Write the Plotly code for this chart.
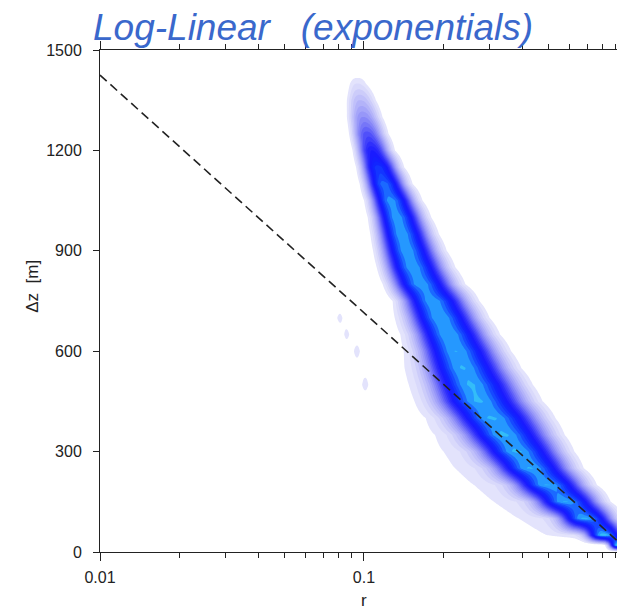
import numpy as np
import plotly.graph_objects as go

# ---------------- data ----------------
title_text = "Log-Linear\u00a0\u00a0\u00a0(exponentials)"

# density band, one row per Δz level (m)
row_dz   = [0, 20, 50, 100, 150, 200, 250, 300, 350, 400, 450, 500, 550, 600, 650, 700,
            750, 800, 850, 900, 950, 1000, 1050, 1100, 1150, 1200, 1250, 1300, 1350, 1400, 1450]
ridge_r  = [0.97, 0.93, 0.818, 0.693, 0.587, 0.502, 0.433, 0.386, 0.345, 0.311, 0.277, 0.259,
            0.241, 0.227, 0.212, 0.197, 0.184, 0.166, 0.155, 0.147, 0.1405, 0.1345, 0.1276,
            0.120, 0.114, 0.108, 0.1035, 0.100, 0.0974, 0.0949, 0.093]
core_w   = [0.02, 0.03, 0.05, 0.07, 0.082, 0.09, 0.097, 0.104, 0.11, 0.115, 0.116, 0.112,
            0.106, 0.1, 0.094, 0.09, 0.086, 0.082, 0.078, 0.073, 0.068, 0.063, 0.058,
            0.053, 0.049, 0.045, 0.044, 0.043, 0.04, 0.033, 0.02]
peak     = [0.0, 1.0, 0.95, 0.92, 0.91, 0.91, 0.91, 0.915, 0.915, 0.915, 0.915, 0.915, 0.915,
            0.915, 0.915, 0.915, 0.91, 0.91, 0.91, 0.91, 0.91, 0.905, 0.9, 0.86, 0.78, 0.64,
            0.5, 0.36, 0.24, 0.12, 0.0]
skirt_reach = [0.0, 0.0, 0.37, 0.39, 0.41, 0.42, 0.43, 0.43, 0.40, 0.36, 0.33, 0.34, 0.36,
               0.28, 0.22, 0.18, 0, 0, 0, 0, 0, 0, 0, 0, 0, 0, 0, 0, 0, 0, 0]
skirt_amp   = [0.0, 0.0, 0.12, 0.14, 0.15, 0.15, 0.15, 0.14, 0.13, 0.12, 0.11, 0.10, 0.08,
               0.065, 0.055, 0.045, 0, 0, 0, 0, 0, 0, 0, 0, 0, 0, 0, 0, 0, 0, 0]

# isolated faint patches left of the band
islands_r  = [0.081, 0.086, 0.094, 0.101]
islands_dz = [700, 650, 600, 500]
islands_amp = [0.09, 0.09, 0.09, 0.09]

# dashed log-linear fit
fit_r  = [0.01, 1.0]
fit_dz = [1425, 5]

x_tickvals = [0.01, 0.1, 1]
x_ticktext = ["0.01", "0.1", "1"]
x_minor = [0.02, 0.03, 0.04, 0.05, 0.06, 0.07, 0.08, 0.09,
           0.2, 0.3, 0.4, 0.5, 0.6, 0.7, 0.8, 0.9]
y_tickvals = [0, 300, 600, 900, 1200, 1500]

# ---------------- density grid ----------------
grid_r = np.logspace(-1.2, 0.0, 400)
L = np.log10(grid_r)
dens = np.zeros((len(row_dz), len(grid_r)))
for i in range(len(row_dz)):
    w = core_w[i]
    c = np.log10(ridge_r[i]) - 0.08 * w
    d = L - c
    wl, wr = 0.9 * w, 1.08 * w
    core = peak[i] * np.where(d < 0, np.exp(-0.5 * np.abs(d / wl) ** 2.4),
                              np.exp(-0.5 * np.abs(d / wr) ** 2.4))
    sk = np.zeros_like(d)
    if skirt_amp[i] > 0.04:
        tau = skirt_reach[i] / np.sqrt(2 * np.log(skirt_amp[i] / 0.035))
        sk = np.where(d < 0, skirt_amp[i] * np.exp(-0.5 * (d / tau) ** 2),
                      skirt_amp[i] * np.exp(-0.5 * (d / (0.8 * w)) ** 2))
    dens[i] = core + sk * (1 - core)
for rr, zz, aa in zip(islands_r, islands_dz, islands_amp):
    i = row_dz.index(zz)
    dens[i] += aa * np.exp(-0.5 * ((L - np.log10(rr)) / 0.012) ** 2)
dens = np.clip(dens, 0, 1)

cscale = [[0.0, '#ffffff'], [0.035, '#ffffff'], [0.04, '#e8e8fd'], [0.1, '#dadafb'],
          [0.16, '#c8c8fa'], [0.24, '#b0b0f9'], [0.32, '#9494f8'], [0.40, '#7474f8'],
          [0.48, '#5050fa'], [0.56, '#3030fc'], [0.64, '#1a1aff'], [0.72, '#1222ff'],
          [0.8, '#1440ff'], [0.85, '#1a64ff'], [0.88, '#2088ff'], [0.92, '#2cb0ff'],
          [0.96, '#3ccef0'], [1.0, '#50e070']]

fig = go.Figure()
fig.add_trace(go.Contour(
    x=grid_r, y=row_dz, z=dens,
    colorscale=cscale, zmin=0, zmax=1, zauto=False, showscale=False,
    contours=dict(start=0.04, end=1.0, size=0.04, coloring='fill', showlines=False),
    line=dict(width=0, color='rgba(0,0,0,0)', smoothing=1.0),
    hoverinfo='skip'))
fig.add_trace(go.Scatter(
    x=fit_r, y=fit_dz, mode='lines',
    line=dict(color='#222222', width=1.6, dash='9px,5px'),
    hoverinfo='skip', showlegend=False))

axis_font = dict(family="Liberation Sans, Arial, sans-serif", size=16, color='#222222')
fig.update_layout(
    width=625, height=613,
    margin=dict(l=92, r=8, t=42, b=69),
    paper_bgcolor='white', plot_bgcolor='white',
    showlegend=False,
    font=axis_font,
    xaxis=dict(type='log', range=[-2, -0.011], tickvals=x_tickvals, ticktext=x_ticktext,
               ticks='outside', ticklen=8, tickwidth=1, tickcolor='#222',
               showline=True, linecolor='#222', linewidth=1, mirror='allticks',
               showgrid=False, zeroline=False, ticklabelstandoff=3,
               minor=dict(tickvals=x_minor, ticks='outside', ticklen=5,
                          tickcolor='#222', showgrid=False),
               tickfont=axis_font),
    yaxis=dict(range=[0, 1500], tickvals=y_tickvals, ticks='outside', ticklen=6,
               tickcolor='#222', showline=True, linecolor='#222', linewidth=1,
               showgrid=False, zeroline=False, ticklabelstandoff=8,
               tickfont=axis_font),
    annotations=[
        dict(text=title_text, xref='paper', yref='paper', x=0.4057, y=1.044,
             xanchor='center', yanchor='middle', showarrow=False,
             font=dict(family="Liberation Sans, Arial, sans-serif", size=37,
                       color='#3a68cc', style='italic')),
        dict(text="\u0394z\u00a0\u00a0[m]", xref='paper', yref='paper', x=-0.128, y=0.53,
             xanchor='center', yanchor='middle', textangle=-90, showarrow=False,
             font=dict(family="Liberation Sans, Arial, sans-serif", size=17, color='#222')),
        dict(text="r", xref='paper', yref='paper', x=0.503, y=-0.096,
             xanchor='center', yanchor='middle', showarrow=False,
             font=dict(family="Liberation Sans, Arial, sans-serif", size=17, color='#222')),
    ],
)

fig.write_html("out.html")
